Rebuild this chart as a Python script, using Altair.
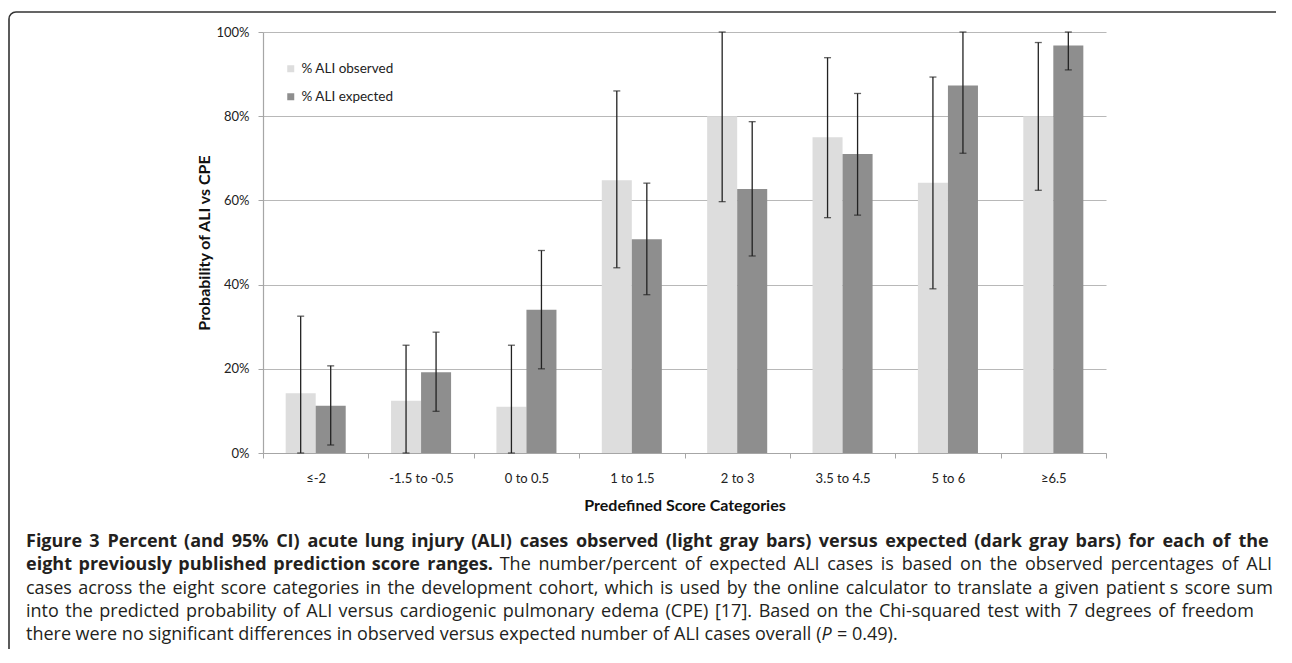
import altair as alt
import pandas as pd

# ---------------- data ----------------
categories = ["≤-2", "-1.5 to -0.5", "0 to 0.5", "1 to 1.5", "2 to 3", "3.5 to 4.5", "5 to 6", "≥6.5"]
series_names = ["% ALI observed", "% ALI expected"]

observed = [14.2, 12.4, 11.0, 64.8, 80.0, 75.0, 64.2, 80.0]
observed_low = [0.0, 0.0, 0.0, 44.0, 59.7, 55.9, 39.0, 62.4]
observed_high = [32.5, 25.6, 25.6, 86.0, 100.0, 93.9, 89.3, 97.5]

expected = [11.2, 19.2, 34.0, 50.8, 62.7, 71.0, 87.3, 96.8]
expected_low = [1.9, 9.9, 20.0, 37.6, 46.8, 56.5, 71.2, 91.0]
expected_high = [20.7, 28.7, 48.1, 64.1, 78.7, 85.4, 100.0, 100.0]

y_ticks = [0, 20, 40, 60, 80, 100]

# caption: each line is a list of (text, weight, style) segments
caption_lines = [
    [("Figure 3 Percent (and 95% CI) acute lung injury (ALI) cases observed (light gray bars) versus expected (dark gray bars) for each of the", "bold", "normal")],
    [("eight previously published prediction score ranges.", "bold", "normal"),
     (" The number/percent of expected ALI cases is based on the observed percentages of ALI", "normal", "normal")],
    [("cases across the eight score categories in the development cohort, which is used by the online calculator to translate a given patient\u00a0s score sum", "normal", "normal")],
    [("into the predicted probability of ALI versus cardiogenic pulmonary edema (CPE) [17]. Based on the Chi-squared test with 7 degrees of freedom", "normal", "normal")],
    [("there were no significant differences in observed versus expected number of ALI cases overall (", "normal", "normal"),
     ("P", "normal", "italic"),
     (" = 0.49).", "normal", "normal")],
]
# layout of the caption block (pixels, relative to the plot's top-left corner)
caption_baselines = [515, 538, 562, 585, 608]
caption_right = [1005, 1009, 1010, 991, None]   # justified lines end here
CAP_X0 = -237
CAP_SIZE = 18

# approximate advance widths (units per 2048 em) used to lay out the justified caption
_reg = dict(zip(" ()[].,/-%=0123456789:;'",
                [532, 606, 606, 674, 674, 545, 502, 752, 659, 1686, 1171] + [1171] * 10 + [545, 545, 447]))
_reg.update(dict(zip("abcdefghijklmnopqrstuvwxyz",
                     [1139, 1255, 975, 1255, 1149, 694, 1122, 1257, 518, 518, 1075, 518, 1905,
                      1257, 1237, 1255, 1255, 836, 977, 723, 1257, 1026, 1593, 1073, 1028, 977])))
_reg.update(dict(zip("ABCDEFGHIJKLMNOPQRSTUVWXYZ",
                     [1296, 1327, 1292, 1493, 1139, 1057, 1491, 1511, 571, 547, 1257, 1063, 1849,
                      1544, 1595, 1233, 1595, 1266, 1124, 1133, 1491, 1219, 1896, 1182, 1147, 1169])))
_reg["\u00a0"] = 532
_bold = dict(zip(" ()[].,/-%=0123456789",
                 [532, 694, 694, 743, 743, 586, 532, 774, 659, 1804, 1171] + [1171] * 10))
_bold.update(dict(zip("abcdefghijklmnopqrstuvwxyz",
                      [1196, 1284, 1036, 1284, 1200, 793, 1130, 1325, 600, 600, 1243, 600, 1966,
                       1325, 1255, 1284, 1284, 905, 1028, 844, 1325, 1139, 1700, 1167, 1141, 1001])))
_bold.update(dict(zip("ABCDEFGHIJKLMNOPQRSTUVWXYZ",
                      [1436, 1386, 1284, 1493, 1151, 1112, 1485, 1579, 666, 616, 1386, 1112, 1898,
                       1604, 1614, 1276, 1614, 1346, 1124, 1155, 1567, 1303, 1963, 1302, 1237, 1128])))


def tw(s, weight):
    table = _bold if weight == "bold" else _reg
    return sum(table.get(ch, 1150) for ch in s) / 2048.0 * CAP_SIZE


def caption_tokens():
    out = []
    for li, segs in enumerate(caption_lines):
        toks = []
        first = True
        for text, weight, style in segs:
            parts = text.split(" ")
            for pi, w in enumerate(parts):
                if w == "":
                    continue
                space_before = (not first) and (pi > 0 or text.startswith(" "))
                toks.append([w, weight, style, space_before])
                first = False
        natural = sum(tw(t[0], t[1]) + (tw(" ", t[1]) if t[3] else 0) for t in toks)
        n_sp = sum(1 for t in toks if t[3])
        extra = 0.0
        if caption_right[li] is not None and n_sp:
            extra = max(0.0, (caption_right[li] - CAP_X0 - natural) / n_sp)
        x = CAP_X0
        for w, weight, style, sb in toks:
            if sb:
                x += tw(" ", weight) + extra
            out.append((w, weight, style, x, caption_baselines[li]))
            x += tw(w, weight)
    return out


rows = []
for i, c in enumerate(categories):
    rows.append({"cat": c, "series": series_names[0], "value": observed[i],
                 "lo": observed_low[i], "hi": observed_high[i]})
    rows.append({"cat": c, "series": series_names[1], "value": expected[i],
                 "lo": expected_low[i], "hi": expected_high[i]})
df = pd.DataFrame(rows)

W, H = 843, 421
FONT = "Lato"
CAP_FONT = "Open Sans"

x_enc = alt.X("cat:N", sort=categories,
              scale=alt.Scale(paddingInner=0, paddingOuter=0),
              axis=alt.Axis(title="Predefined Score Categories", labelAngle=0,
                            tickBand="extent", ticks=True, tickSize=5,
                            labelPadding=14, titlePadding=12, grid=False,
                            titleFontSize=16, titleFontWeight="bold"))
xoff_enc = alt.XOffset("series:N", sort=series_names,
                       scale=alt.Scale(paddingInner=0, paddingOuter=0.755))
y_enc = alt.Y("value:Q", scale=alt.Scale(domain=[0, 100], nice=False),
              axis=alt.Axis(values=y_ticks, labelExpr="datum.value + '%'",
                            title="Probability of ALI vs CPE", grid=True,
                            tickSize=5, labelPadding=9, titlePadding=3,
                            titleFontSize=16, titleFontWeight="bold"))
color_enc = alt.Color("series:N", sort=series_names, title=None,
                      scale=alt.Scale(domain=series_names, range=["#dddddd", "#8e8e8e"]),
                      legend=alt.Legend(orient="none", legendX=21, legendY=30,
                                        symbolType="square", symbolSize=49,
                                        symbolStrokeWidth=0, labelFontSize=13.5,
                                        labelFont=FONT, labelColor="#222",
                                        rowPadding=13, padding=0, labelOffset=4))

base = alt.Chart(df)
bars = base.mark_bar().encode(x=x_enc, xOffset=xoff_enc, y=y_enc, color=color_enc)
rules = base.mark_rule(color="#222222", strokeWidth=1.3).encode(
    x=x_enc, xOffset=xoff_enc, y="lo:Q", y2="hi:Q")
caps_hi = base.mark_tick(color="#222222", thickness=1.3, size=7, orient="horizontal").encode(
    x=x_enc, xOffset=xoff_enc, y="hi:Q")
caps_lo = base.mark_tick(color="#222222", thickness=1.3, size=7, orient="horizontal").encode(
    x=x_enc, xOffset=xoff_enc, y="lo:Q")

caption = []
for word, weight, style, px, py in caption_tokens():
    caption.append(
        alt.Chart(pd.DataFrame({"t": [word]})).mark_text(
            align="left", baseline="alphabetic", font=CAP_FONT, fontSize=CAP_SIZE,
            fontWeight=weight, fontStyle=style, color="#231f20"
        ).encode(text="t:N", x=alt.value(round(px, 2)), y=alt.value(py))
    )

border = alt.Chart(pd.DataFrame({"a": [0]})).mark_rect(
    fillOpacity=0, stroke="#333333", strokeWidth=1.6, cornerRadius=7
).encode(x=alt.value(-254), x2=alt.value(1040), y=alt.value(-20), y2=alt.value(700))

chart = alt.layer(bars, rules, caps_hi, caps_lo, border, *caption).properties(
    width=W, height=H,
    padding={"left": 255, "top": 24, "right": 170, "bottom": 196},
    autosize=alt.AutoSizeParams(type="none"),
).configure_view(strokeWidth=0).configure_axis(
    labelFont=FONT, titleFont=FONT, labelFontSize=13, labelColor="#222222",
    titleColor="#111111", domainColor="#a6a6a6", tickColor="#a6a6a6",
    gridColor="#b8b8b8", domainWidth=1.2, gridWidth=1.2
)

chart.save("out.html", embed_options={"renderer": "svg", "actions": False})
